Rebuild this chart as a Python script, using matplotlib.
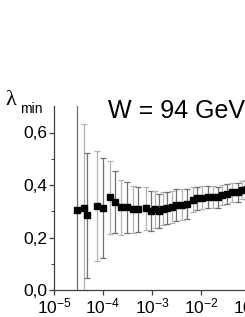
import matplotlib
matplotlib.use("Agg")
import matplotlib.pyplot as plt
from matplotlib.ticker import FixedLocator, LogLocator, NullFormatter

plt.rcParams['font.family'] = 'Liberation Sans'
plt.rcParams['mathtext.fontset'] = 'custom'
plt.rcParams['mathtext.rm'] = 'Liberation Sans'
plt.rcParams['mathtext.it'] = 'Liberation Sans:italic'

# data
x_vals = [2.9e-5, 4.1e-5, 4.7e-5, 7.5e-5, 9.8e-5, 1.39e-4, 1.76e-4, 2.33e-4,
          3.13e-4, 4.04e-4, 5.18e-4, 7.43e-4, 9.68e-4, 1.15e-3, 1.39e-3,
          1.70e-3, 2.06e-3, 2.52e-3, 3.09e-3, 4.04e-3, 5.11e-3, 6.76e-3,
          8.17e-3, 1.03e-2, 1.39e-2, 1.73e-2, 2.19e-2, 2.72e-2, 3.34e-2,
          4.36e-2, 5.61e-2, 6.97e-2, 8.7e-2]
lam = [0.305, 0.313, 0.284, 0.321, 0.313, 0.353, 0.335, 0.315, 0.315, 0.307,
       0.307, 0.311, 0.300, 0.307, 0.300, 0.309, 0.312, 0.316, 0.323, 0.325,
       0.328, 0.344, 0.349, 0.352, 0.353, 0.355, 0.354, 0.362, 0.366, 0.372,
       0.373, 0.381, 0.383]
err = [0.42, 0.318, 0.237, 0.21, 0.19, 0.14, 0.117, 0.105, 0.098, 0.09,
       0.086, 0.083, 0.077, 0.072, 0.065, 0.063, 0.062, 0.061, 0.06, 0.06,
       0.058, 0.047, 0.045, 0.044, 0.042, 0.041, 0.04, 0.039, 0.038, 0.037,
       0.036, 0.035, 0.035]
y_ticks = [0.0, 0.2, 0.4, 0.6]
y_labels = ['0,0', '0,2', '0,4', '0,6']
x_ticks = [1e-5, 1e-4, 1e-3, 1e-2, 1e-1]
x_labels = [r'$\mathregular{10^{-5}}$', r'$\mathregular{10^{-4}}$',
            r'$\mathregular{10^{-3}}$', r'$\mathregular{10^{-2}}$',
            r'$\mathregular{10^{-1}}$']

fig = plt.figure(figsize=(2.45, 3.17), dpi=100)
ax = fig.add_axes([54 / 245, 27 / 317, 1.0, 183.75 / 317])

for i in range(len(x_vals)):
    c = '#707070' if i % 2 == 0 else '#b4b4b4'
    ax.errorbar(x_vals[i], lam[i], yerr=err[i], fmt='none', ecolor=c,
                elinewidth=0.9, capsize=2, capthick=0.9)
ax.plot(x_vals, lam, 's', color='black', markersize=4.8, linestyle='none')

ax.set_xscale('log')
ax.set_xlim(1e-5, 1e0)
ax.set_ylim(0, 0.7)
ax.set_xticks(x_ticks)
ax.set_xticklabels(x_labels)
ax.xaxis.set_minor_locator(LogLocator(base=10, subs=range(2, 10)))
ax.xaxis.set_minor_formatter(NullFormatter())
ax.set_yticks(y_ticks)
ax.set_yticklabels(y_labels)
ax.yaxis.set_minor_locator(FixedLocator([0.1, 0.3, 0.5]))

for s in ['top', 'right']:
    ax.spines[s].set_visible(False)
for s in ['left', 'bottom']:
    ax.spines[s].set_color('#404040')
    ax.spines[s].set_linewidth(0.9)
ax.tick_params(which='major', length=3.5, width=0.9, color='#404040', pad=1.5)
ax.tick_params(axis='y', labelsize=12.5)
ax.tick_params(axis='x', labelsize=12.5, pad=1.5)
ax.tick_params(which='minor', length=2, width=0.7, color='#404040')

fig.text(108 / 245, 1 - 118 / 317, 'W = 94 GeV', fontsize=18,
         va='baseline', ha='left')
fig.text(5 / 245, 1 - 105 / 317, 'λ', fontsize=16, family='Liberation Serif',
         va='baseline', ha='left')
fig.text(20 / 245, 1 - 113 / 317, 'min', fontsize=10, va='baseline', ha='left')

fig.savefig('out.png', dpi=100)
